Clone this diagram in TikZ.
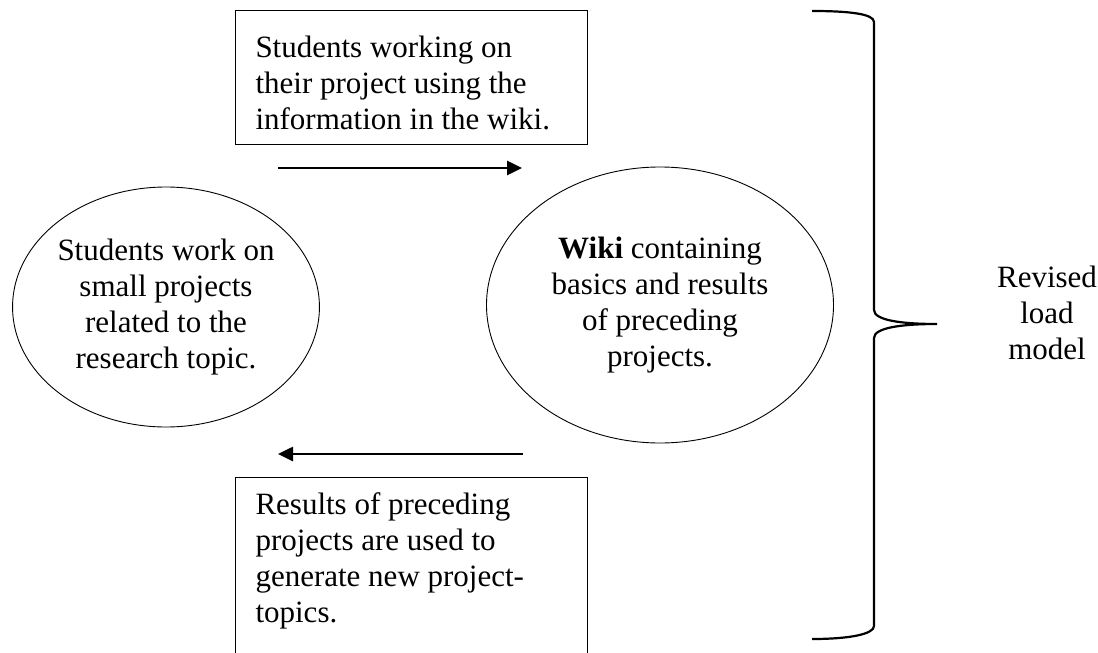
\documentclass[tikz,border=0pt]{standalone}
\usepackage{fontspec}
\setmainfont{Liberation Serif}
\usetikzlibrary{arrows.meta,shapes.geometric}

\begin{document}
\begin{tikzpicture}[x=1pt,y=-1pt,>={Triangle[length=15pt,width=14pt]},
  txtbox/.style={draw,line width=1pt,rectangle,anchor=north west,inner xsep=20pt,inner ysep=0pt},
  cyc/.style={draw,line width=0.9pt,ellipse,inner sep=0pt,align=center},
  flow/.style={->,line width=2.6pt},
  lbl/.style={font=\fontsize{31}{36}\selectfont}]
  \useasboundingbox (0,0) rectangle (1098,653);
  \clip (0,0) rectangle (1098,653);
  \node[txtbox,lbl] (usebox) at (235,10) {\parbox[b][134pt][t]{312pt}{\raggedright
    \rule{0pt}{47pt}Students working on\\their project using the\\information in the wiki.}};
  \node[txtbox,lbl] (newbox) at (235,477) {\parbox[b][190pt][t]{312pt}{\raggedright
    \rule{0pt}{37pt}Results of preceding\\projects are used to\\generate new project-\\topics.}};
  \node[cyc,lbl,minimum width=306pt,minimum height=240pt] (smallproj) at (166,307)
    {Students work on\\small projects\\related to the\\research topic.};
  \node[cyc,lbl,minimum width=347pt,minimum height=276pt] (wiki) at (660,305)
    {\textbf{Wiki} containing\\basics and results\\of preceding\\projects.};
  \coordinate (toA) at (278,168);
  \coordinate (toB) at (522,168);
  \coordinate (backA) at (523,454);
  \coordinate (backB) at (278,454);
  \draw[flow] (toA) -- (toB);
  \draw[flow] (backA) -- (backB);
  \draw[line width=2.2pt] (812,11) .. controls (850,11) and (874,14) .. (874,22)
    -- (874,310) .. controls (874,320) and (900,324) .. (937,324)
    .. controls (900,324) and (874,328) .. (874,338)
    -- (874,626) .. controls (874,634) and (850,639) .. (812,639);
  \node[lbl,align=center] (revised) at (1047,313) {Revised\\load\\model};
\end{tikzpicture}
\end{document}
